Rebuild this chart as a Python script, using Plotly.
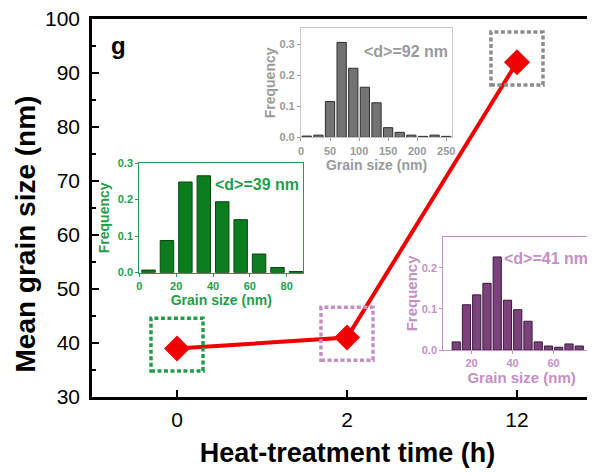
import plotly.graph_objects as go

# main series
times = ["0", "2", "12"]
mean_size = [39, 41, 92]

# inset histograms (bin centers in nm, frequency)
g_bins = [5, 15, 25, 35, 45, 55, 65, 75, 85]
g_freq = [0.007, 0.088, 0.248, 0.265, 0.194, 0.145, 0.051, 0.014, 0.003]

p_bins = [12.5, 17.5, 22.5, 27.5, 32.5, 37.5, 42.5, 47.5, 52.5, 57.5, 62.5, 67.5, 72.5]
p_freq = [0.020, 0.110, 0.134, 0.162, 0.226, 0.121, 0.098, 0.070, 0.020, 0.010, 0.007, 0.015, 0.010]

k_bins = [10, 30, 50, 70, 90, 110, 130, 150, 170, 190, 210, 230, 250]
k_freq = [0.004, 0.007, 0.115, 0.305, 0.222, 0.161, 0.111, 0.031, 0.016, 0.007, 0.003, 0.007, 0.003]

FONT = "Liberation Sans, Arial, sans-serif"
RED = "#f00000"
GREEN, GREEN_BAR, GREEN_EDGE = "#1f9e4a", "#0b7d1f", "#04470f"
PURPLE, PURPLE_BAR, PURPLE_EDGE = "#c48fc6", "#7c427c", "#3a173a"
GRAY, GRAY_BAR, GRAY_EDGE = "#9a9a9a", "#737373", "#2e2e2e"

fig = go.Figure()

fig.add_trace(go.Scatter(
    x=times, y=mean_size, mode="lines+markers",
    line=dict(color=RED, width=4),
    marker=dict(symbol="diamond", size=20, color=RED),
    xaxis="x", yaxis="y", showlegend=False,
))

fig.add_trace(go.Bar(x=g_bins, y=g_freq, width=7.3, xaxis="x2", yaxis="y2",
                     marker=dict(color=GREEN_BAR, line=dict(color=GREEN_EDGE, width=1)),
                     showlegend=False))
fig.add_trace(go.Bar(x=p_bins, y=p_freq, width=4.0, xaxis="x3", yaxis="y3",
                     marker=dict(color=PURPLE_BAR, line=dict(color=PURPLE_EDGE, width=1)),
                     showlegend=False))
fig.add_trace(go.Bar(x=k_bins, y=k_freq, width=16, xaxis="x4", yaxis="y4",
                     marker=dict(color=GRAY_BAR, line=dict(color=GRAY_EDGE, width=1)),
                     showlegend=False))


def inset_axes(color, domx, domy, xr, yr, xtick, ytick, xt, yt, fs, xs, ys):
    tf = dict(family=FONT, size=11, color=color, weight="bold")
    xa = dict(domain=domx, range=xr, dtick=xtick, showline=True, mirror=True,
              linecolor=color, linewidth=1.2, ticks="outside", ticklen=3, tickcolor=color,
              showgrid=False, zeroline=False, tickfont=tf, automargin=False,
              title=dict(text=xt, font=dict(family=FONT, size=fs, color=color, weight="bold"),
                         standoff=xs))
    ya = dict(domain=domy, range=yr, dtick=ytick, tickformat=".1f", showline=True, mirror=True,
              linecolor=color, linewidth=1.2, ticks="outside", ticklen=3, tickcolor=color,
              showgrid=False, zeroline=False, tickfont=tf, automargin=False,
              title=dict(text=yt, font=dict(family=FONT, size=fs, color=color, weight="bold"),
                         standoff=ys))
    return xa, ya


xa2, ya2 = inset_axes(GREEN, [0.0926, 0.4135], [0.329, 0.619], [0, 89], [0, 0.3], 20, 0.1,
                      "Grain size (nm)", "Frequency", 14, 2, 4)
xa3, ya3 = inset_axes(PURPLE, [0.6875, 0.994], [0.124, 0.424], [6.2, 82.6], [0, 0.275], 20, 0.1,
                      "Grain size (nm)", "Frequency", 15, 0, 0)
xa4, ya4 = inset_axes(GRAY, [0.409, 0.7045], [0.687, 0.975], [0, 260], [0, 0.35], 50, 0.1,
                      "Grain size (nm)", "Frequency", 14, 1, 0)
xa4["linecolor"] = "#c8c8c8"
ya4["linecolor"] = "#c8c8c8"
xa3["ticklabeloverflow"] = "allow"  # the "80" is cut by the right edge, as in the figure

# dotted squares around each marker
box_cols = [GREEN, PURPLE, "#8c8c8c"]
shapes = []
for i, v in enumerate(mean_size):
    shapes.append(dict(type="rect", xref="x", yref="y",
                       x0=i - 0.153, x1=i + 0.153, y0=v + 0.7 - 4.9, y1=v + 0.7 + 4.9,
                       line=dict(color=box_cols[i], width=3.5, dash="4px,2.5px")))

ann = [
    dict(text="g", xref="paper", yref="paper", x=0.051, y=0.93, showarrow=False,
         xanchor="center", yanchor="middle",
         font=dict(family=FONT, size=24, color="black", weight="bold")),
    dict(text="Mean grain size (nm)", xref="paper", yref="paper", x=-0.131, y=0.43,
         textangle=-90, showarrow=False, xanchor="center", yanchor="middle",
         font=dict(family=FONT, size=28, color="black", weight="bold")),
    dict(text="&lt;d&gt;=39 nm", xref="x2", yref="y2", x=64, y=0.24, showarrow=False,
         font=dict(family=FONT, size=16, color=GREEN, weight="bold")),
    dict(text="&lt;d&gt;=41 nm", xref="x3", yref="y3", x=56.5, y=0.223, showarrow=False,
         font=dict(family=FONT, size=16, color=PURPLE, weight="bold")),
    dict(text="&lt;d&gt;=92 nm", xref="x4", yref="y4", x=181, y=0.275, showarrow=False,
         font=dict(family=FONT, size=16, color=GRAY, weight="bold")),
]

# the page adds an 8px body margin, so the margins are shifted by -8px
fig.update_layout(
    width=595, height=476,
    margin=dict(l=84, r=0, t=11, b=87),
    paper_bgcolor="white", plot_bgcolor="white",
    font=dict(family=FONT, color="black"),
    xaxis=dict(type="category", range=[-0.5, 2.506], showline=True, mirror=True,
               linecolor="black", linewidth=2.5, ticks="inside", ticklen=7, tickwidth=2,
               tickcolor="black", showgrid=False, zeroline=False, automargin=False,
               tickfont=dict(family=FONT, size=21), ticklabelstandoff=2,
               title=dict(text="Heat-treatment time (h)", standoff=14,
                          font=dict(family=FONT, size=27, weight="bold"))),
    yaxis=dict(range=[30, 100], dtick=10, showline=True, linecolor="black", linewidth=2.5,
               ticks="inside", ticklen=7, tickwidth=2, tickcolor="black",
               minor=dict(ticks="inside", ticklen=4, dtick=5, tickwidth=2, tickcolor="black"),
               showgrid=False, zeroline=False, automargin=False, ticklabeloverflow="allow",
               tickfont=dict(family=FONT, size=21), ticklabelstandoff=5),
    xaxis2=dict(anchor="y2", **xa2), yaxis2=dict(anchor="x2", **ya2),
    xaxis3=dict(anchor="y3", **xa3), yaxis3=dict(anchor="x3", **ya3),
    xaxis4=dict(anchor="y4", **xa4), yaxis4=dict(anchor="x4", **ya4),
    shapes=shapes,
    annotations=ann,
)

fig.write_html("out.html")
